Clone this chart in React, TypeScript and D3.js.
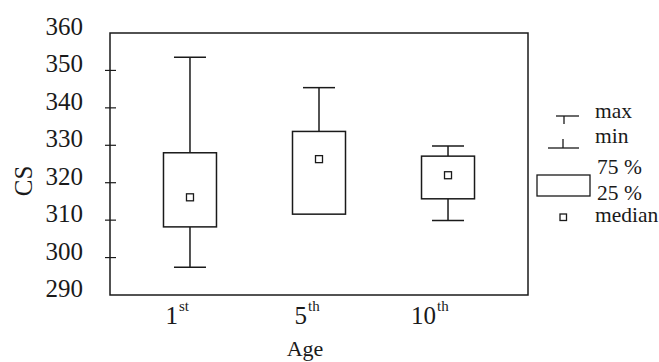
import React from "react";
import * as d3 from "d3";

const categories = ["1", "5", "10"];
const suffixes = ["st", "th", "th"];
const maxVals = [353.5, 345.4, 329.8];
const q3Vals = [328.0, 333.7, 327.1];
const medianVals = [316.1, 326.3, 322.0];
const q1Vals = [308.2, 311.6, 315.7];
const minVals = [297.4, 311.6, 309.9];
const yTicks = [290, 300, 310, 320, 330, 340, 350, 360];

const W = 659, H = 362;
const left = 110, right = 528, top = 33, bottom = 295;
const font = "'Liberation Serif', 'Times New Roman', serif";
const ink = "#1a1a1a";

export default function App() {
  const y = d3.scaleLinear().domain([290, 360]).range([bottom, top]);
  const x = d3.scalePoint<string>().domain(categories).range([left, right]).padding(0.62);
  const boxW = 53, capW = 32, med = 7;
  return (
    <svg width={W} height={H} style={{ position: "absolute", left: 0, top: 0, background: "#fff" }}>
      <rect x={left} y={top} width={right - left} height={bottom - top} fill="none" stroke={ink} strokeWidth={1.5} />
      {yTicks.map((t) => (
        <g key={t}>
          {t > 290 && t < 360 && (
            <line x1={left - 5} x2={left + 6} y1={y(t)} y2={y(t)} stroke={ink} strokeWidth={1.2} />
          )}
          <text x={83} y={y(t) + 2} textAnchor="end" fontFamily={font} fontSize={25} fill={ink}>{t}</text>
        </g>
      ))}
      <text transform={`translate(32,181) rotate(-90)`} textAnchor="middle" fontFamily={font} fontSize={25} fill={ink}>CS</text>
      {categories.map((c, i) => {
        const cx = x(c)!;
        return (
          <g key={c} stroke={ink} strokeWidth={1.5} fill="none">
            <line x1={cx} x2={cx} y1={y(maxVals[i])} y2={y(q3Vals[i])} />
            <line x1={cx - capW / 2} x2={cx + capW / 2} y1={y(maxVals[i])} y2={y(maxVals[i])} />
            {minVals[i] < q1Vals[i] && (
              <>
                <line x1={cx} x2={cx} y1={y(q1Vals[i])} y2={y(minVals[i])} />
                <line x1={cx - capW / 2} x2={cx + capW / 2} y1={y(minVals[i])} y2={y(minVals[i])} />
              </>
            )}
            <rect x={cx - boxW / 2} y={y(q3Vals[i])} width={boxW} height={y(q1Vals[i]) - y(q3Vals[i])} fill="#fff" />
            <rect x={cx - med / 2} y={y(medianVals[i]) - med / 2} width={med} height={med} fill="#fff" strokeWidth={1.3} />
          </g>
        );
      })}
      {categories.map((c, i) => (
        <g key={c} fontFamily={font} fill={ink}>
          <text x={x(c)! - 12} y={324} textAnchor="end" fontSize={25}>{c}</text>
          <text x={x(c)! - 11} y={311} textAnchor="start" fontSize={15}>{suffixes[i]}</text>
        </g>
      ))}
      <text x={305} y={356} textAnchor="middle" fontFamily={font} fontSize={22} fill={ink}>Age</text>
      {/* legend */}
      <g stroke={ink} strokeWidth={1.3} fill="none">
        <line x1={556} x2={579} y1={116} y2={116} />
        <line x1={564} x2={564} y1={116} y2={124} />
        <line x1={563} x2={563} y1={139} y2={148} />
        <line x1={548} x2={579} y1={148} y2={148} />
        <rect x={537} y={175} width={53} height={21} fill="#fff" />
        <rect x={560} y={214} width={6.5} height={6.5} fill="#fff" />
      </g>
      <g fontFamily={font} fontSize={21.5} fill={ink}>
        <text x={595} y={118}>max</text>
        <text x={595} y={143}>min</text>
        <text x={597} y={174}>75 %</text>
        <text x={597} y={200}>25 %</text>
        <text x={595} y={222}>median</text>
      </g>
    </svg>
  );
}
